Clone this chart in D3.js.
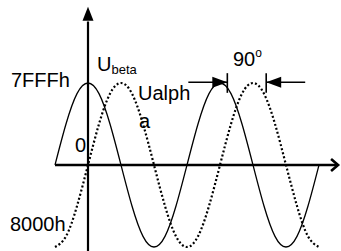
<!DOCTYPE html>
<html><head><meta charset="utf-8">
<script src="https://cdn.jsdelivr.net/npm/d3@7"></script>
<style>
html,body{margin:0;padding:0;background:#fff;}
svg{display:block;}
text{font-family:"Liberation Sans",Arial,sans-serif;fill:#000;}
</style></head>
<body>
<svg id="c" width="341" height="251"></svg>
<script>
// phase angle (degrees) of each sample
const angles = [-90,-60,-30,0,30,60,90,120,150,180,210,240,270,300,330,360,390,420,450,480,510,540,570,600,630];
// U_beta (solid)
const uBeta = [0,0.5,0.87,1,0.87,0.5,0,-0.5,-0.87,-1,-0.87,-0.5,0,0.5,0.87,1,0.87,0.5,0,-0.5,-0.87,-1,-0.87,-0.5,0];
// U_alpha (dotted)
const uAlpha = [-1,-0.87,-0.5,0,0.5,0.87,1,0.87,0.5,0,-0.5,-0.87,-1,-0.87,-0.5,0,0.5,0.87,1,0.87,0.5,0,-0.5,-0.87,-1];
// value labels on the vertical axis
const yLabels = [{text:"7FFFh", v:1},{text:"0", v:0},{text:"8000h", v:-1}];
// 90° phase annotation (angles of the two markers)
const phaseMarks = [380, 486];

const svg = d3.select("#c");
const x = d3.scaleLinear().domain([-90, 630]).range([55, 319]);
const y = d3.scaleLinear().domain([-1, 1]).range([247, 83]);

// axes
svg.append("line").attr("x1", x(-90)).attr("x2", x(682)).attr("y1", y(0)).attr("y2", y(0))
  .attr("stroke","#000").attr("stroke-width",2.4);
svg.append("path").attr("d", d3.line()([[x(682)-7,y(0)-6],[x(682),y(0)],[x(682)-7,y(0)+6]]))
  .attr("fill","none").attr("stroke","#000").attr("stroke-width",2.6);
svg.append("line").attr("x1", x(0)).attr("x2", x(0)).attr("y1", 251).attr("y2", y(1.75))
  .attr("stroke","#000").attr("stroke-width",2.2);
svg.append("path").attr("d", d3.line()([[x(0),y(1.93)],[x(0)-5.5,y(1.76)],[x(0)+5.5,y(1.76)]])+"Z")
  .attr("fill","#000");

const line = d3.line().x((d,i)=>x(angles[i])).y(d=>y(d)).curve(d3.curveNatural);

svg.append("path").attr("d", line(uBeta)).attr("fill","none")
  .attr("stroke","#000").attr("stroke-width",1.3);
svg.append("path").attr("d", line(uAlpha)).attr("fill","none")
  .attr("stroke","#000").attr("stroke-width",2.2).attr("stroke-dasharray","2,2.2");

// labels
const lab = svg.append("g").attr("font-size",20);
lab.append("text").attr("x",11).attr("y",y(1)+4).text("7FFFh");
lab.append("text").attr("x",75).attr("y",y(0)-13).text("0");
lab.append("text").attr("x",10).attr("y",y(-1)-16).text("8000h");

const ub = lab.append("text").attr("x",97).attr("y",71);
ub.append("tspan").text("U");
ub.append("tspan").attr("font-size",13).attr("dy",3).text("beta");

lab.append("text").attr("x",138).attr("y",100).text("Ualph");
lab.append("text").attr("x",139).attr("y",128).text("a");

const ninety = lab.append("text").attr("x",233).attr("y",66);
ninety.append("tspan").text("90");
ninety.append("tspan").attr("font-size",12).attr("dy",-9).text("o");

// 90° markers
const [a1, a2] = phaseMarks;
[a1, a2].forEach(a=>{
  svg.append("line").attr("x1",x(a)).attr("x2",x(a)).attr("y1",y(1.12)).attr("y2",y(0.88))
    .attr("stroke","#000").attr("stroke-width",1.6);
});
svg.append("line").attr("x1",x(a1)-39).attr("x2",x(a1)).attr("y1",y(1.01)).attr("y2",y(1.01))
  .attr("stroke","#000").attr("stroke-width",1.6);
svg.append("path").attr("d", d3.line()([[x(a1),y(1.01)],[x(a1)-15,y(1.01)-5.5],[x(a1)-15,y(1.01)+5.5]])+"Z").attr("fill","#000");
svg.append("line").attr("x1",x(a2)).attr("x2",x(a2)+39).attr("y1",y(1.01)).attr("y2",y(1.01))
  .attr("stroke","#000").attr("stroke-width",1.6);
svg.append("path").attr("d", d3.line()([[x(a2),y(1.01)],[x(a2)+15,y(1.01)-5.5],[x(a2)+15,y(1.01)+5.5]])+"Z").attr("fill","#000");
</script>
</body></html>
